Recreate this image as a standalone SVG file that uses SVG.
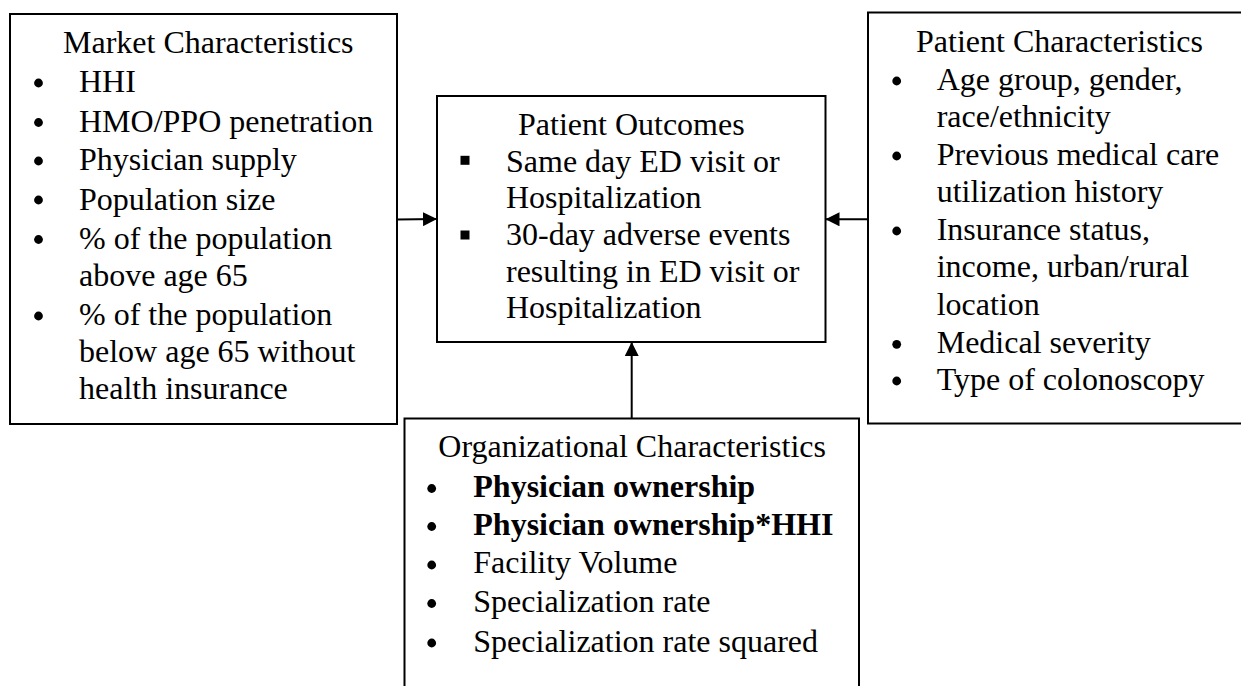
<svg xmlns="http://www.w3.org/2000/svg" width="1241" height="686" viewBox="0 0 1241 686" font-family="'Liberation Serif', 'Times New Roman', Tinos, 'Nimbus Roman', Times, serif">
<style>
.box{fill:#fff;stroke:#000;stroke-width:2}
text{font-family:'Liberation Serif','Times New Roman',Tinos,'Nimbus Roman',Times,serif;font-size:32px;fill:#000}
.b{font-weight:bold}
.dot{fill:#000}
.conn{stroke:#000;stroke-width:2;fill:none}
</style>
<defs>
<marker id="ah" viewBox="0 0 14 14" refX="14" refY="7" markerWidth="14" markerHeight="14" markerUnits="userSpaceOnUse" orient="auto">
<path d="M0,0 L14,7 L0,14 Z" fill="#000"/>
</marker>
</defs>

<g id="market">
<rect class="box" x="10" y="14" width="387" height="410"/>
<text x="63" y="53">Market Characteristics</text>
<circle class="dot" cx="38.5" cy="83" r="4.4"/>
<text x="79" y="92"> HHI</text>
<circle class="dot" cx="38.5" cy="122.5" r="4.4"/>
<text x="79" y="131.5">HMO/PPO penetration</text>
<circle class="dot" cx="38.5" cy="161" r="4.4"/>
<text x="79" y="170">Physician supply</text>
<circle class="dot" cx="38.5" cy="200" r="4.4"/>
<text x="79" y="209.5">Population size</text>
<circle class="dot" cx="38.5" cy="239.5" r="4.4"/>
<text x="79" y="248.5">% of the population</text>
<text x="79" y="286">above age 65</text>
<circle class="dot" cx="38.5" cy="316" r="4.4"/>
<text x="79" y="325">% of the population</text>
<text x="79" y="362">below age 65 without</text>
<text x="79" y="398.5">health insurance</text>
</g>

<g id="outcomes">
<rect class="box" x="437" y="96" width="388.5" height="246"/>
<text x="518" y="135">Patient Outcomes</text>
<rect class="dot" x="460.5" y="155.8" width="9" height="9"/>
<text x="506" y="171.7">Same day ED visit or</text>
<text x="506" y="208.3">Hospitalization</text>
<rect class="dot" x="460.5" y="230.5" width="9" height="9"/>
<text x="506" y="245">30-day adverse events</text>
<text x="506" y="281.7">resulting in ED visit or</text>
<text x="506" y="318.3">Hospitalization</text>
</g>

<g id="patient">
<rect class="box" x="868" y="12.5" width="380" height="411"/>
<text x="916" y="51.7">Patient Characteristics</text>
<circle class="dot" cx="896.7" cy="81" r="4.4"/>
<text x="936.7" y="90">Age group, gender,</text>
<text x="936.7" y="126.7">race/ethnicity</text>
<circle class="dot" cx="896.7" cy="156" r="4.4"/>
<text x="936.7" y="165">Previous medical care</text>
<text x="936.7" y="201.7">utilization history</text>
<circle class="dot" cx="896.7" cy="231" r="4.4"/>
<text x="936.7" y="240">Insurance status,</text>
<text x="936.7" y="276.7">income, urban/rural</text>
<text x="936.7" y="315">location</text>
<circle class="dot" cx="896.7" cy="344.3" r="4.4"/>
<text x="936.7" y="353.3">Medical severity</text>
<circle class="dot" cx="896.7" cy="381" r="4.4"/>
<text x="936.7" y="390">Type of colonoscopy</text>
</g>

<g id="organizational">
<path class="box" d="M404.5,700 L404.5,418.5 L859,418.5 L859,700"/>
<text x="438.3" y="457.3">Organizational Characteristics</text>
<circle class="dot" cx="431.7" cy="488.5" r="4.4"/>
<text class="b" x="473.3" y="496.7">Physician ownership</text>
<circle class="dot" cx="431.7" cy="526.5" r="4.4"/>
<text class="b" x="473.3" y="535">Physician ownership*HHI</text>
<circle class="dot" cx="431.7" cy="565" r="4.4"/>
<text x="473.3" y="573.3">Facility Volume</text>
<circle class="dot" cx="431.7" cy="603.5" r="4.4"/>
<text x="473.3" y="611.7">Specialization rate</text>
<circle class="dot" cx="431.7" cy="643" r="4.4"/>
<text x="473.3" y="651.7">Specialization rate squared</text>
</g>

<g id="connectors">
<line class="conn" x1="397" y1="219.5" x2="437" y2="219" marker-end="url(#ah)"/>
<line class="conn" x1="868" y1="219.3" x2="825.5" y2="219.3" marker-end="url(#ah)"/>
<line class="conn" x1="631.7" y1="418.5" x2="631.7" y2="342" marker-end="url(#ah)"/>
</g>
</svg>
